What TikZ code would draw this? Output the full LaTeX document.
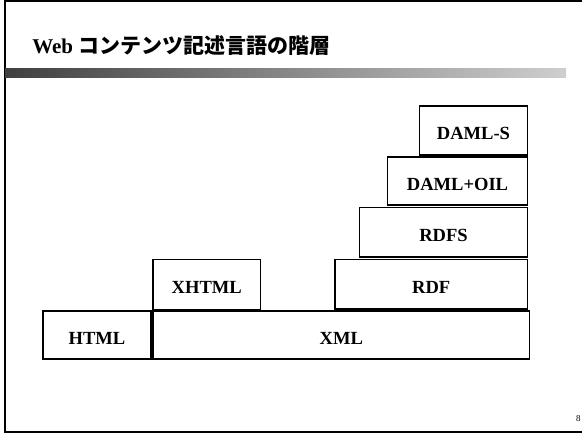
\documentclass[tikz,border=0pt]{standalone}
\usepackage{fontspec}
\setmainfont{Liberation Serif}
\newfontfamily\cjk{Noto Sans CJK JP Bold}
\begin{document}
\begin{tikzpicture}[x=0.75pt,y=-0.75pt,
  layer/.style={draw, line width=1pt, inner sep=0pt, font=\fontsize{13.9pt}{16pt}\selectfont\bfseries,
    text height=13.7pt, text depth=0pt}]
\useasboundingbox (0,0) rectangle (582,434);
% frame
\draw[line width=1pt] (590,1) -- (5,1) -- (5,432) -- (590,432);
% gradient bar
\shade[left color=black!75, right color=black!19] (5,69) rectangle (566,77.5);
% title
\node[anchor=base west, inner sep=0pt, font=\fontsize{15.75pt}{18pt}\selectfont\bfseries] (title) at (32,54) {Web {\cjk コンテンツ記述言語の階層}};
% layers
\node[layer, minimum width=81pt, minimum height=36pt] (html) at (97,335) {HTML};
\node[layer, minimum width=282.4pt, minimum height=36pt] (xml) at (341.25,335) {XML};
\node[layer, minimum width=80.6pt, minimum height=37.9pt] (xhtml) at (206.75,284.75) {XHTML};
\node[layer, minimum width=144.4pt, minimum height=37.1pt] (rdf) at (431.25,284.25) {RDF};
\node[layer, minimum width=126pt, minimum height=37.1pt] (rdfs) at (443.5,232.25) {RDFS};
\node[layer, minimum width=105pt, minimum height=36pt] (damloil) at (457.5,181) {DAML+OIL};
\node[layer, minimum width=81pt, minimum height=36.75pt] (damls) at (473.5,130.5) {DAML-S};
% page number
\node[anchor=base east, inner sep=0pt, font=\fontsize{6.75pt}{8pt}\selectfont] (pagenum) at (581,421.5) {8};
\end{tikzpicture}
\end{document}
